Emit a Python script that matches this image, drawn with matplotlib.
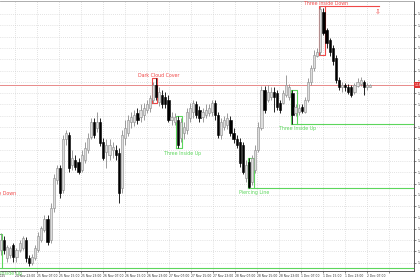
# MT4-style H1 candlestick chart with candle pattern markers
import numpy as np
import matplotlib.pyplot as plt

# OHLC, one bar per entry (first bar sits just off the left edge)
opens = [1.1500,
         1.1491, 1.1500, 1.1484, 1.1487, 1.1496, 1.1485, 1.1491, 1.1493, 1.1500, 1.1484,
         1.1480, 1.1484, 1.1491, 1.1500, 1.1509, 1.1519, 1.1500, 1.1528, 1.1553, 1.1564,
         1.1544, 1.1589, 1.1593, 1.1566, 1.1571, 1.1569, 1.1562, 1.1571, 1.1580, 1.1591,
         1.1604, 1.1599, 1.1604, 1.1587, 1.1578, 1.1575, 1.1580, 1.1580, 1.1577, 1.1546,
         1.1590, 1.1595, 1.1604, 1.1604, 1.1612, 1.1609, 1.1611, 1.1615, 1.1617, 1.1624,
         1.1637, 1.1622, 1.1628, 1.1627, 1.1624, 1.1606, 1.1604, 1.1606, 1.1590, 1.1595,
         1.1597, 1.1608, 1.1613, 1.1620, 1.1615, 1.1609, 1.1611, 1.1612, 1.1613, 1.1621,
         1.1611, 1.1593, 1.1600, 1.1602, 1.1606, 1.1595, 1.1589, 1.1587, 1.1584, 1.1555,
         1.1569, 1.1551, 1.1562, 1.1580, 1.1599, 1.1633, 1.1624, 1.1627, 1.1631, 1.1630,
         1.1621, 1.1621, 1.1628, 1.1627, 1.1630, 1.1612, 1.1613, 1.1618, 1.1613, 1.1624,
         1.1640, 1.1652, 1.1663, 1.1666, 1.1702, 1.1686, 1.1677, 1.1670, 1.1661, 1.1642,
         1.1635, 1.1637, 1.1635, 1.1635, 1.1631, 1.1636, 1.1638, 1.1640, 1.1635, 1.1635]
highs = [1.1505,
         1.1506, 1.1504, 1.1496, 1.1495, 1.1497, 1.1493, 1.1500, 1.1504, 1.1503, 1.1487,
         1.1488, 1.1496, 1.1507, 1.1512, 1.1522, 1.1522, 1.1533, 1.1558, 1.1566, 1.1566,
         1.1593, 1.1597, 1.1596, 1.1580, 1.1575, 1.1573, 1.1580, 1.1587, 1.1595, 1.1608,
         1.1608, 1.1613, 1.1608, 1.1590, 1.1589, 1.1589, 1.1587, 1.1584, 1.1581, 1.1597,
         1.1606, 1.1611, 1.1613, 1.1615, 1.1617, 1.1620, 1.1621, 1.1624, 1.1628, 1.1640,
         1.1643, 1.1635, 1.1633, 1.1631, 1.1628, 1.1613, 1.1612, 1.1610, 1.1608, 1.1604,
         1.1617, 1.1621, 1.1624, 1.1623, 1.1619, 1.1617, 1.1620, 1.1620, 1.1624, 1.1624,
         1.1613, 1.1608, 1.1610, 1.1612, 1.1610, 1.1599, 1.1593, 1.1590, 1.1587, 1.1571,
         1.1573, 1.1575, 1.1584, 1.1604, 1.1636, 1.1636, 1.1637, 1.1635, 1.1635, 1.1633,
         1.1624, 1.1633, 1.1646, 1.1638, 1.1633, 1.1620, 1.1620, 1.1620, 1.1627, 1.1643,
         1.1655, 1.1668, 1.1670, 1.1707, 1.1705, 1.1688, 1.1679, 1.1673, 1.1664, 1.1644,
         1.1640, 1.1639, 1.1638, 1.1637, 1.1639, 1.1643, 1.1644, 1.1642, 1.1639, 1.1638]
lows = [1.1475,
        1.1487, 1.1488, 1.1481, 1.1484, 1.1481, 1.1481, 1.1489, 1.1491, 1.1481, 1.1477,
        1.1478, 1.1482, 1.1489, 1.1498, 1.1507, 1.1496, 1.1497, 1.1525, 1.1550, 1.1537,
        1.1542, 1.1584, 1.1560, 1.1562, 1.1562, 1.1558, 1.1560, 1.1568, 1.1577, 1.1589,
        1.1590, 1.1596, 1.1583, 1.1571, 1.1564, 1.1571, 1.1573, 1.1571, 1.1533, 1.1542,
        1.1584, 1.1592, 1.1599, 1.1601, 1.1603, 1.1604, 1.1606, 1.1612, 1.1613, 1.1621,
        1.1624, 1.1619, 1.1617, 1.1617, 1.1604, 1.1602, 1.1602, 1.1581, 1.1587, 1.1589,
        1.1594, 1.1604, 1.1608, 1.1608, 1.1604, 1.1604, 1.1608, 1.1610, 1.1610, 1.1606,
        1.1590, 1.1589, 1.1597, 1.1598, 1.1592, 1.1586, 1.1581, 1.1565, 1.1558, 1.1551,
        1.1546, 1.1549, 1.1559, 1.1578, 1.1597, 1.1612, 1.1622, 1.1624, 1.1613, 1.1615,
        1.1612, 1.1620, 1.1627, 1.1624, 1.1603, 1.1610, 1.1611, 1.1612, 1.1612, 1.1622,
        1.1637, 1.1650, 1.1662, 1.1664, 1.1681, 1.1670, 1.1663, 1.1655, 1.1639, 1.1633,
        1.1631, 1.1632, 1.1629, 1.1627, 1.1629, 1.1635, 1.1636, 1.1628, 1.1633, 1.1635]
closes = [1.1480,
          1.1500, 1.1491, 1.1494, 1.1493, 1.1485, 1.1491, 1.1497, 1.1502, 1.1484, 1.1480,
          1.1485, 1.1493, 1.1504, 1.1511, 1.1519, 1.1498, 1.1528, 1.1555, 1.1564, 1.1542,
          1.1589, 1.1595, 1.1564, 1.1573, 1.1565, 1.1560, 1.1575, 1.1581, 1.1590, 1.1604,
          1.1593, 1.1604, 1.1586, 1.1573, 1.1584, 1.1584, 1.1582, 1.1575, 1.1542, 1.1593,
          1.1599, 1.1606, 1.1609, 1.1611, 1.1606, 1.1615, 1.1617, 1.1620, 1.1626, 1.1637,
          1.1627, 1.1631, 1.1620, 1.1620, 1.1606, 1.1609, 1.1609, 1.1584, 1.1604, 1.1600,
          1.1613, 1.1617, 1.1621, 1.1611, 1.1608, 1.1613, 1.1615, 1.1617, 1.1621, 1.1611,
          1.1593, 1.1604, 1.1606, 1.1608, 1.1595, 1.1589, 1.1584, 1.1568, 1.1560, 1.1566,
          1.1547, 1.1573, 1.1580, 1.1600, 1.1633, 1.1615, 1.1631, 1.1631, 1.1627, 1.1618,
          1.1615, 1.1630, 1.1637, 1.1635, 1.1611, 1.1618, 1.1617, 1.1614, 1.1624, 1.1640,
          1.1652, 1.1664, 1.1666, 1.1704, 1.1683, 1.1674, 1.1666, 1.1658, 1.1642, 1.1635,
          1.1637, 1.1635, 1.1631, 1.1628, 1.1637, 1.1640, 1.1642, 1.1635, 1.1637, 1.1637]

# candle patterns: index of first bar, name, bullish?, extend a level line to the right?
pattern_bars = [0, 50, 58, 81, 95, 104]
pattern_names = ["Three Inside Up", "Dark Cloud Cover", "Three Inside Up",
                 "Piercing Line", "Three Inside Up", "Three Inside Down"]
pattern_bull = [True, False, True, True, True, False]
pattern_extend = [True, False, False, True, True, True]

time_labels = ["24 Nov 23:00", "25 Nov 07:00", "25 Nov 15:00", "25 Nov 23:00",
               "26 Nov 07:00", "26 Nov 15:00", "26 Nov 23:00", "27 Nov 07:00",
               "27 Nov 15:00", "27 Nov 23:00", "28 Nov 07:00", "28 Nov 15:00",
               "28 Nov 23:00", "1 Dec 07:00", "1 Dec 15:00", "1 Dec 23:00",
               "2 Dec 07:00", ""]
price_ticks = [1.1700, 1.1690, 1.1680, 1.1670, 1.1660, 1.1650, 1.1640, 1.1630,
               1.1620, 1.1610, 1.1600, 1.1590, 1.1580, 1.1570, 1.1560, 1.1550,
               1.1540, 1.1530, 1.1520, 1.1510, 1.1500, 1.1490, 1.1480]

RED = '#f04848'
GREEN = '#5cd65c'

o = np.array(opens)
h = np.array(highs)
l = np.array(lows)
c = np.array(closes)
x = np.arange(len(o)) - 1
bull = c >= o

fig = plt.figure(figsize=(4.2, 2.8), dpi=100)
ax = fig.add_axes([0, 9 / 280, 414 / 420, 270 / 280])
ax.set_xlim(-0.32, 133.2)
ax.set_ylim(1.14726, 1.17115)

# grid
ax.set_yticks(price_ticks)
ax.set_yticklabels(['%.5f' % p for p in price_ticks])
xt = 4.52 + 7.1 * np.arange(len(time_labels))
ax.set_xticks(xt)
ax.set_xticklabels(time_labels)
for t in ax.get_xticklabels():
    t.set_ha('left')
ax.grid(True, ls=(0, (1, 2)), color='#c8c8c8', lw=0.5)
ax.set_axisbelow(True)

# current price line
ax.axhline(c[-1], color='#e88a8a', lw=0.7, zorder=1)

# candles
ax.vlines(x, l, h, colors=np.where(bull, '#8a8a8a', 'black'), lw=0.6, zorder=3)
body = np.maximum(np.abs(c - o), 0.00004)
ax.bar(x, body, bottom=np.minimum(o, c), width=0.7,
       color=np.where(bull, '#dedede', 'black'),
       edgecolor=np.where(bull, '#8a8a8a', 'black'), lw=0.4, zorder=4)

# patterns
for p, name, up, ext in zip(pattern_bars, pattern_names, pattern_bull, pattern_extend):
    x0, x1 = x[p] - 0.45, x[p + 1] + 0.45
    col = GREEN if up else RED
    if up:
        lo, hi = min(l[p], l[p + 1]), h[p]
    else:
        lo, hi = l[p], max(h[p], h[p + 1])
    ax.plot([x0, x0, x1, x1, x0], [lo, hi, hi, lo, lo], color=col, lw=0.8, zorder=2)
    cx = (x0 + x1) / 2 + 1.2
    if up:
        if ext:
            ax.plot([x1, 140], [lo, lo], color=col, lw=0.8, zorder=2)
        ax.text(cx, lo - 0.0002, name, color=col, fontsize=3.4, ha='center', va='top')
    else:
        if ext:
            ax.plot([x1, x[p] + 19], [hi, hi], color=col, lw=0.8, zorder=2)
            ax.text(x[p] + 18.6, hi - 0.0002, '\u21e9', color=col, fontsize=5,
                    ha='center', va='top')
        ax.text(cx, hi + 0.00005, name, color=col, fontsize=3.4, ha='center', va='bottom')

# label of a pattern that starts left of the window
ax.text(4.8, 1.1541, "Three Inside Down", color=RED, fontsize=3.4, ha='right', va='center')

# axes styling like the terminal
ax.spines['left'].set_visible(False)
ax.spines['top'].set_color('#a0a0a0')
ax.spines['right'].set_color('#404040')
ax.spines['bottom'].set_color('#404040')
for s in ['top', 'right', 'bottom']:
    ax.spines[s].set_linewidth(0.6)
ax.yaxis.tick_right()
ax.tick_params(axis='both', labelsize=2.2, length=1.5, width=0.4, pad=1, colors='#303030')

ax.text(1.002, c[-1], '%.5f' % c[-1], transform=ax.get_yaxis_transform(),
        fontsize=2.2, color='white', ha='left', va='center',
        bbox=dict(boxstyle='square,pad=0.25', fc='#e03030', ec='none'))
ax.text(1.3, -0.012, "21 Nov 2025", transform=ax.get_xaxis_transform(),
        fontsize=2.2, color='#303030', ha='right', va='top')

fig.savefig('out.png', dpi=100)
